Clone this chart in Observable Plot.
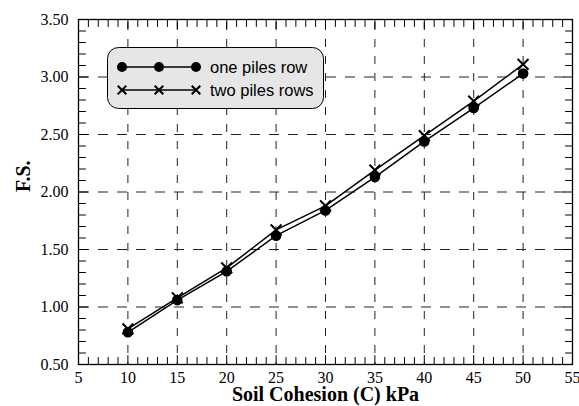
<!DOCTYPE html>
<html><head><meta charset="utf-8">
<script src="https://cdn.jsdelivr.net/npm/d3@7"></script>
<script src="https://cdn.jsdelivr.net/npm/@observablehq/plot@0.6"></script>
<style>body{margin:0;background:#fff} #chart{position:relative;width:579px;height:406px}</style>
</head><body><div id="chart"></div>
<script>
const cohesion = [10, 15, 20, 25, 30, 35, 40, 45, 50];
const oneRow = [0.78, 1.06, 1.31, 1.62, 1.84, 2.13, 2.44, 2.73, 3.03];
const twoRows = [0.81, 1.08, 1.34, 1.67, 1.88, 2.19, 2.49, 2.79, 3.11];
const seriesNames = ["one piles row", "two piles rows"];
const xTicks = [5, 10, 15, 20, 25, 30, 35, 40, 45, 50, 55];
const yTicks = [0.5, 1.0, 1.5, 2.0, 2.5, 3.0, 3.5];
const xGrid = [10, 15, 20, 25, 30, 35, 40, 45, 50];
const yGrid = [1.0, 1.5, 2.0, 2.5, 3.0];
const xTitle = "Soil Cohesion (C) kPa";
const yTitle = "F.S.";

const xMinor = d3.range(6, 55, 1).filter(v => v % 5 !== 0);
const yMinor = d3.range(6, 35, 1).filter(v => v % 5 !== 0).map(v => v / 10);
const xMajor = xTicks.slice(1, -1);
const yMajor = yTicks.slice(1, -1);

const one = cohesion.map((c, i) => ({c, v: oneRow[i]}));
const two = cohesion.map((c, i) => ({c, v: twoRows[i]}));

const tickShape = {draw(ctx, l) { ctx.moveTo(0, 0); ctx.lineTo(0, -l); }};
const tk = (data, ch, anchor, rot, len) => Plot.vector(data, {
  [ch]: d => d, frameAnchor: anchor, rotate: rot, length: len, anchor: "start",
  shape: tickShape, stroke: "black", strokeWidth: 1
});

const chart = Plot.plot({
  width: 579, height: 406,
  marginLeft: 78, marginRight: 7, marginTop: 19, marginBottom: 42,
  x: {domain: [5, 55]},
  y: {domain: [0.5, 3.5]},
  style: {fontFamily: "'Liberation Serif', 'Times New Roman', serif", fontSize: "16px", color: "black", background: "white"},
  marks: [
    Plot.ruleX(xGrid, {x: d => d, stroke: "#222", strokeDasharray: "8,9", strokeDashoffset: -20}),
    Plot.ruleY(yGrid, {y: d => d, stroke: "#222", strokeDasharray: "10,9", strokeDashoffset: -20}),
    tk(xMinor, "x", "bottom", 0, 7), tk(xMinor, "x", "top", 180, 7),
    tk(xMajor, "x", "bottom", 0, 9), tk(xMajor, "x", "top", 180, 9),
    tk(yMinor, "y", "left", 90, 7), tk(yMinor, "y", "right", -90, 7),
    tk(yMajor, "y", "left", 90, 9), tk(yMajor, "y", "right", -90, 9),
    Plot.frame({stroke: "black", strokeWidth: 1.3}),
    Plot.axisX(xTicks, {tickSize: 0, tickPadding: 7, tickFormat: d => String(d), label: null, fontSize: 16}),
    Plot.axisY(yTicks, {tickSize: 0, tickPadding: 10, tickFormat: d => d.toFixed(2), label: null, fontSize: 16}),
    Plot.line(two, {x: "c", y: "v", stroke: "black", strokeWidth: 1.5}),
    Plot.dot(two, {x: "c", y: "v", symbol: "times", r: 5, stroke: "black", strokeWidth: 2}),
    Plot.line(one, {x: "c", y: "v", stroke: "black", strokeWidth: 1.5}),
    Plot.dot(one, {x: "c", y: "v", symbol: "circle", r: 5.3, fill: "black", stroke: "none"}),
    Plot.text([xTitle], {text: d => d, frameAnchor: "bottom", lineAnchor: "middle", dy: 30, fontSize: 20, fontWeight: "bold"}),
    Plot.text([yTitle], {text: d => d, frameAnchor: "left", lineAnchor: "middle", dx: -55, rotate: -90, fontSize: 20, fontWeight: "bold"})
  ]
});
document.getElementById("chart").appendChild(chart);

// Legend inside the plot area
const svg = d3.select(chart);
const lg = svg.append("g").attr("font-family", "'Liberation Sans', Arial, sans-serif")
  .attr("font-size", 16.5).attr("text-anchor", "start");
lg.append("rect").attr("x", 107.5).attr("y", 47.5).attr("width", 216).attr("height", 61)
  .attr("rx", 11).attr("fill", "#e6e6e6").attr("stroke", "black").attr("stroke-width", 1);
const rows = [{name: seriesNames[0], y: 67, sym: d3.symbolCircle, fill: true},
              {name: seriesNames[1], y: 90, sym: d3.symbolTimes, fill: false}];
const mx = [122, 159, 196];
rows.forEach(r => {
  lg.append("line").attr("x1", mx[0]).attr("x2", mx[2]).attr("y1", r.y).attr("y2", r.y)
    .attr("stroke", "black").attr("stroke-width", 1.5);
  mx.forEach(x => {
    lg.append("path").attr("transform", `translate(${x},${r.y})`)
      .attr("d", d3.symbol(r.sym, r.fill ? 78 : 50)())
      .attr("fill", r.fill ? "black" : "none").attr("stroke", r.fill ? "none" : "black").attr("stroke-width", 2);
  });
  lg.append("text").attr("x", 210).attr("y", r.y).attr("dy", "0.35em").attr("fill", "black")
    .attr("text-anchor", "start").text(r.name);
});
</script>
</body></html>
